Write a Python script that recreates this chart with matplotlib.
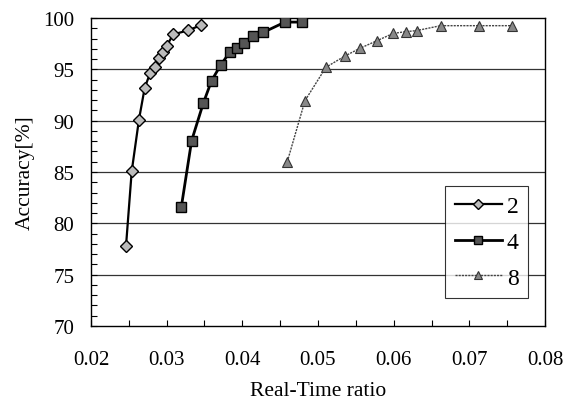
import matplotlib
matplotlib.use("Agg")
import matplotlib.pyplot as plt
from matplotlib.ticker import MultipleLocator, FormatStrFormatter

plt.rcParams['font.family'] = ['Liberation Serif', 'DejaVu Serif']

x2 = [0.02463, 0.02538, 0.02634, 0.0271, 0.0278, 0.02846, 0.0290, 0.02955, 0.0300, 0.03088, 0.03286, 0.03454]
y2 = [77.8, 85.05, 90.1, 93.2, 94.6, 95.2, 96.1, 96.7, 97.3, 98.4, 98.8, 99.3]

x4 = [0.03194, 0.0333, 0.03484, 0.03594, 0.03713, 0.03837, 0.03925, 0.0402, 0.04137, 0.04277, 0.04564, 0.04783]
y4 = [81.6, 88.05, 91.7, 93.9, 95.4, 96.7, 97.1, 97.6, 98.2, 98.6, 99.6, 99.6]

x8 = [0.04594, 0.04828, 0.05105, 0.05357, 0.05555, 0.05784, 0.05994, 0.06163, 0.06303, 0.0662, 0.07127, 0.07567]
y8 = [86.0, 91.95, 95.2, 96.3, 97.05, 97.8, 98.5, 98.67, 98.77, 99.25, 99.25, 99.25]

labels = ['2', '4', '8']

fig = plt.figure(figsize=(5.74, 4.10), dpi=100)
ax = fig.add_axes([0.1585, 0.2024, 0.7910, 0.7513])

for y in [75, 80, 85, 90, 95]:
    ax.axhline(y, color='#333333', lw=0.9, zorder=1)

ax.plot(x2, y2, color='black', lw=1.6, marker='D', ms=6, mfc='#bbbbbb', mec='black', mew=1.0, label=labels[0], zorder=3)
ax.plot(x4, y4, color='black', lw=2.0, marker='s', ms=7, mfc='#555555', mec='black', mew=1.0, label=labels[1], zorder=3)
ax.plot(x8, y8, color='#444444', lw=1.0, ls=(0, (1.5, 0.8)), marker='^', ms=7, mfc='#888888', mec='#333333', mew=0.8, label=labels[2], zorder=3)

ax.set_xlim(0.02, 0.08)
ax.set_ylim(70, 100)
ax.xaxis.set_major_locator(MultipleLocator(0.01))
ax.xaxis.set_minor_locator(MultipleLocator(0.005))
ax.yaxis.set_major_locator(MultipleLocator(5))
ax.yaxis.set_minor_locator(MultipleLocator(1))
ax.xaxis.set_major_formatter(FormatStrFormatter('%.2f'))
ax.tick_params(axis='both', which='both', direction='in', labelsize=15, length=4, width=0.8)
ax.tick_params(axis='x', pad=17)
ax.tick_params(axis='y', pad=12)
for s in ax.spines.values():
    s.set_linewidth(1.0)

ax.set_xlabel('Real-Time ratio', fontsize=15.5, labelpad=9)
ax.set_ylabel('Accuracy[%]', fontsize=15.5, labelpad=6)

leg = ax.legend(loc='lower right', bbox_to_anchor=(0.9626, 0.091), borderaxespad=0, fontsize=17,
                handlelength=2.0, frameon=True, fancybox=False, edgecolor='black', borderpad=0.4,
                labelspacing=0.6, handletextpad=0.2, markerscale=0.9)
leg.get_frame().set_linewidth(0.8)

fig.savefig('out.png', dpi=100)
